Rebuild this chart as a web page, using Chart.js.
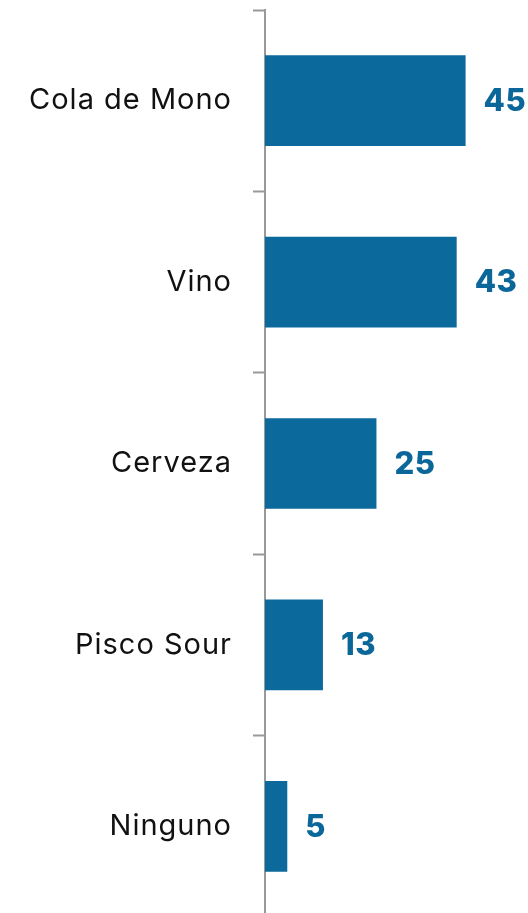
<!DOCTYPE html>
<html>
<head>
<meta charset="utf-8">
<script src="https://cdn.jsdelivr.net/npm/chart.js@4/dist/chart.umd.min.js"></script>
<style>
  html, body { margin: 0; padding: 0; background: #fff; overflow: hidden; }
  #wrap { width: 528px; height: 917px; }
</style>
</head>
<body>
<div id="wrap"><canvas id="myChart"></canvas></div>
<script>
const categories = ["Cola de Mono", "Vino", "Cerveza", "Pisco Sour", "Ninguno"];
const values = [45, 43, 25, 13, 5];

const barColor = "#0b699b";

// espaciado de letras para las etiquetas del eje
const spacing = {
  id: "spacing",
  beforeDraw(chart) { chart.ctx.letterSpacing = "1px"; },
  afterDraw(chart) { chart.ctx.letterSpacing = "0px"; }
};

// etiquetas de valor al final de cada barra
const valueLabels = {
  id: "valueLabels",
  afterDatasetsDraw(chart) {
    const ctx = chart.ctx;
    const meta = chart.getDatasetMeta(0);
    ctx.save();
    ctx.letterSpacing = "0.5px";
    ctx.fillStyle = "#0b6699";
    ctx.font = "800 31px Inter";
    ctx.textAlign = "left";
    ctx.textBaseline = "middle";
    meta.data.forEach((bar, i) => {
      ctx.fillText(values[i], bar.x + 18, bar.y + 1);
    });
    ctx.restore();
  }
};

const ctx = document.getElementById("myChart");
new Chart(ctx, {
  type: "bar",
  data: {
    labels: categories,
    datasets: [{
      data: values,
      backgroundColor: barColor,
      borderWidth: 0,
      barPercentage: 0.5,
      categoryPercentage: 1
    }]
  },
  options: {
    indexAxis: "y",
    responsive: true,
    maintainAspectRatio: false,
    animation: false,
    layout: { padding: { top: 10, right: 0, bottom: 0, left: 0 } },
    plugins: {
      legend: { display: false },
      tooltip: { enabled: false }
    },
    scales: {
      x: {
        display: false,
        min: 0,
        max: 59
      },
      y: {
        grid: {
          offset: true,
          drawOnChartArea: false,
          tickLength: 12,
          tickColor: "#999",
          tickWidth: 2
        },
        border: { color: "#999", width: 2 },
        ticks: {
          color: "#111",
          font: { family: "Inter", size: 29 },
          padding: 21
        },
        afterFit(scale) {
          scale.width = 265;
          scale.paddingTop = 0;
          scale.paddingBottom = 0;
        }
      }
    }
  },
  plugins: [spacing, valueLabels]
});
</script>
</body>
</html>
